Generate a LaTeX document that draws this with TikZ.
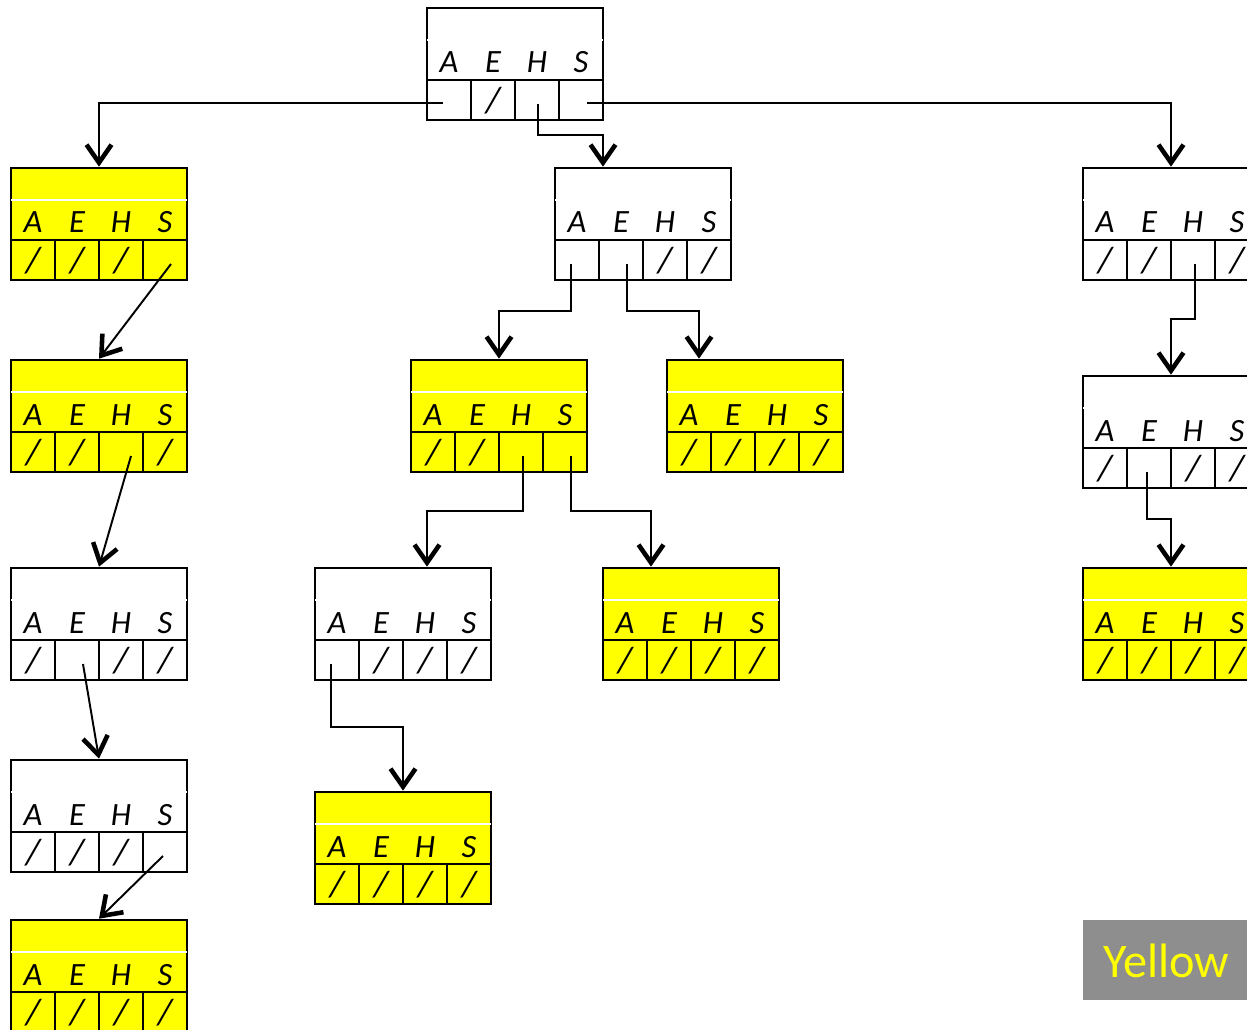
\documentclass[tikz,border=0pt]{standalone}
\usepackage{fontspec}
\setmainfont{Carlito}
\usetikzlibrary{arrows.meta,calc}
\definecolor{legendgray}{RGB}{142,142,142}
\definecolor{wordyellow}{RGB}{255,255,0}
\tikzset{
  hdr/.style={draw, line width=1.5pt, minimum width=3.52cm, minimum height=1.44cm, inner sep=0pt},
  cel/.style={draw, line width=1.5pt, minimum width=0.88cm, minimum height=0.8cm, inner sep=0pt,
    text depth=0pt, font=\fontsize{21}{22}\selectfont\itshape},
  key/.style={anchor=base, inner sep=0pt, font=\fontsize{18.5}{20}\selectfont\itshape},
  gap/.style={white, line width=1.2pt},
  ptr/.style={line width=1.1pt, -{Straight Barb[length=0.36cm,width=0.5cm,line width=2.6pt]}},
}
\newcommand{\trie}[8]{%
  \node[hdr, fill=#4] (#1) at (#2+88,#3+36) {};
  \draw[gap] (#2,#3+32) -- (#2+176,#3+32);
  \node[cel, fill=#4] (#1-a) at (#2+22,#3+92) {#5};
  \node[cel, fill=#4] (#1-e) at (#2+66,#3+92) {#6};
  \node[cel, fill=#4] (#1-h) at (#2+110,#3+92) {#7};
  \node[cel, fill=#4] (#1-s) at (#2+154,#3+92) {#8};
  \node[key] (#1-ka) at (#2+22,#3+65) {A};
  \node[key] (#1-ke) at (#2+66,#3+65) {E};
  \node[key] (#1-kh) at (#2+110,#3+65) {H};
  \node[key] (#1-ks) at (#2+154,#3+65) {S};
}

\begin{document}
\begin{tikzpicture}[x=0.02cm, y=-0.02cm]
    \useasboundingbox (0,0) rectangle (1247,1030);
    \trie{root}{427}{8}{white}{}{/}{}{}
    \trie{l1}{11}{168}{wordyellow}{/}{/}{/}{}
    \trie{m1}{555}{168}{white}{}{}{/}{/}
    \trie{r1}{1083}{168}{white}{/}{/}{}{/}
    \trie{l2}{11}{360}{wordyellow}{/}{/}{}{/}
    \trie{m2a}{411}{360}{wordyellow}{/}{/}{}{}
    \trie{m2b}{667}{360}{wordyellow}{/}{/}{/}{/}
    \trie{r2}{1083}{376}{white}{/}{}{/}{/}
    \trie{l3}{11}{568}{white}{/}{}{/}{/}
    \trie{m3a}{315}{568}{white}{}{/}{/}{/}
    \trie{m3b}{603}{568}{wordyellow}{/}{/}{/}{/}
    \trie{r3}{1083}{568}{wordyellow}{/}{/}{/}{/}
    \trie{l4}{11}{760}{white}{/}{/}{/}{}
    \trie{m4}{315}{792}{wordyellow}{/}{/}{/}{/}
    \trie{l5}{11}{920}{wordyellow}{/}{/}{/}{/}
    \node[fill=legendgray, anchor=north west, minimum width=4cm, minimum height=1.6cm, inner sep=0pt] (legend) at (1083,920) {};
    \node[anchor=base west, inner sep=0pt, text=wordyellow, font=\fontsize{27.5}{30}\selectfont] (legendtext) at (1103,977) {Yellow};
    \draw[ptr] ($(root-a.center)+(-6,3)$) -| (l1.north);
    \draw[ptr] ($(root-h.center)+(1,4)$) |- ($(m1.north)+(-40,-32)$) -- ($(m1.north)+(-40,0)$);
    \draw[ptr] ($(root-s.center)+(6,3)$) -| (r1.north);
    \draw[ptr] ($(l1-s.center)+(6,4)$) -- (l2.north);
    \draw[ptr] ($(l2-h.center)+(10,4)$) -- (l3.north);
    \draw[ptr] ($(l3-e.center)+(6,4)$) -- (l4.north);
    \draw[ptr] ($(l4-s.center)+(-2,4)$) -- (l5.north);
    \draw[ptr] ($(m1-a.center)+(-6,4)$) |- ($(m2a.north)+(0,-48)$) -- (m2a.north);
    \draw[ptr] ($(m1-e.center)+(6,4)$) |- ($(m2b.north)+(-56,-48)$) -- ($(m2b.north)+(-56,0)$);
    \draw[ptr] ($(m2a-h.center)+(2,4)$) |- ($(m3a.north)+(24,-56)$) -- ($(m3a.north)+(24,0)$);
    \draw[ptr] ($(m2a-s.center)+(6,4)$) |- ($(m3b.north)+(-40,-56)$) -- ($(m3b.north)+(-40,0)$);
    \draw[ptr] ($(m3a-a.center)+(-6,4)$) |- ($(m4.north)+(0,-64)$) -- (m4.north);
    \draw[ptr] ($(r1-h.center)+(2,4)$) |- ($(r2.north)+(0,-56)$) -- (r2.north);
    \draw[ptr] ($(r2-e.center)+(-2,4)$) |- ($(r3.north)+(0,-48)$) -- (r3.north);
\end{tikzpicture}
\end{document}
